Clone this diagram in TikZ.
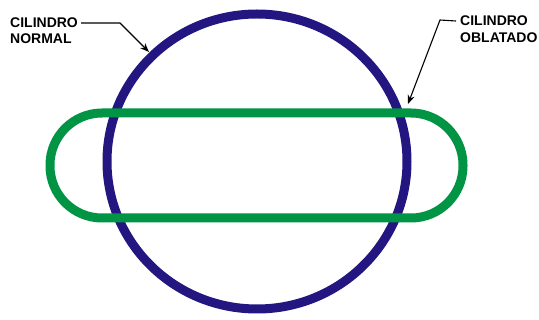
\documentclass[tikz,border=0pt]{standalone}
\usepackage{fontspec}
\setmainfont{Liberation Sans}
\usetikzlibrary{arrows.meta,positioning}
\definecolor{circleblue}{RGB}{36,22,128}
\definecolor{ovalgreen}{RGB}{0,148,68}

\begin{document}
\begin{tikzpicture}[x=1pt,y=-1pt,
    tag/.style={font=\bfseries\fontsize{14}{16}\selectfont, inner sep=0pt, anchor=west},
    leader/.style={-{Stealth[length=9pt,width=7pt]}, line width=1.1pt, black}]
    \useasboundingbox (0,0) rectangle (539,320);
    % normal cylinder
    \draw[line width=9pt, circleblue] (257,161.5) ellipse [x radius=150, y radius=147.5];
    % oblate cylinder
    \draw[line width=9pt, ovalgreen, rounded corners=52pt] (50,113) rectangle (463,218);
    % labels
    \node[tag] (normal1) at (10,23) {CILINDRO};
    \node[tag] (normal2) at (10,39) {NORMAL};
    \node[tag] (oblate1) at (460,21) {CILINDRO};
    \node[tag] (oblate2) at (460,37.5) {OBLATADO};
    % leaders
    \coordinate (bendnormal) at (120,23);
    \coordinate (tipnormal) at (149,52);
    \coordinate (bendoblate) at (440,20);
    \coordinate (tipoblate) at (408,104);
    \draw[leader] ([xshift=3pt]normal1.east) -- (bendnormal) -- (tipnormal);
    \draw[leader] ([xshift=-4pt]oblate1.west) -- (bendoblate) -- (tipoblate);
\end{tikzpicture}
\end{document}
